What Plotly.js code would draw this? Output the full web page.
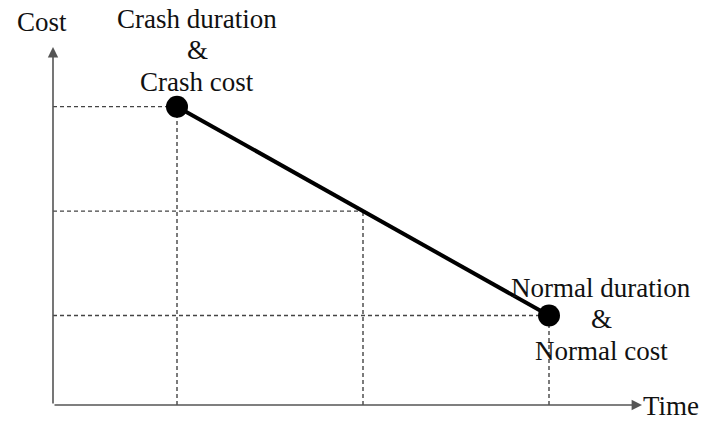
<!DOCTYPE html>
<html>
<head>
<meta charset="utf-8">
<script src="https://cdn.plot.ly/plotly-3.0.1.min.js"></script>
<style>html,body{margin:0;padding:0;background:#fff;}#chart{width:727px;height:442px;}</style>
</head>
<body>
<div id="chart"></div>
<script>
// Time (x) and cost (y) of the two end points: crash, normal
const pointTimes = [2, 8];
const pointCosts = [10, 3];
// Guide (dashed) levels: crash, midpoint, normal
const guideTimes = [2, 5, 8];
const guideCosts = [10, 6.5, 3];
const pointLabels = [['Crash duration', '&', 'Crash cost'], ['Normal duration', '&', 'Normal cost']];
const axisLabels = {x: 'Time', y: 'Cost'};
const xMax = 9.5, yMax = 12;

const gx = [], gy = [];
guideTimes.forEach((t, i) => {
  const c = guideCosts[i];
  gx.push(0, t, null, t, t, null);
  gy.push(c, c, null, 0, c, null);
});

const font = {family: '"Liberation Serif", "Times New Roman", serif', size: 27, color: '#111'};

const traces = [
  {x: gx, y: gy, mode: 'lines', line: {color: '#444', width: 1.4, dash: '4px,3px'}, hoverinfo: 'skip'},
  {x: pointTimes, y: pointCosts, mode: 'lines+markers', line: {color: '#000', width: 4},
   marker: {color: '#000', size: 22}}
];

const annotations = [
  {x: xMax, y: 0, ax: 0, ay: 0, axref: 'x', ayref: 'y', xref: 'x', yref: 'y', text: '',
   showarrow: true, arrowhead: 2, arrowsize: 1.3, arrowwidth: 1.6, arrowcolor: '#555', standoff: 0, startstandoff: 0},
  {x: 0, y: yMax, ax: 0, ay: 0, axref: 'x', ayref: 'y', xref: 'x', yref: 'y', text: '',
   showarrow: true, arrowhead: 2, arrowsize: 1.3, arrowwidth: 1.6, arrowcolor: '#555', standoff: 0, startstandoff: 0},
  {x: xMax, y: 0, xref: 'x', yref: 'y', text: axisLabels.x, showarrow: false, xanchor: 'left', yanchor: 'middle',
   xshift: -1, yshift: -1, font: font},
  {x: 0, y: yMax, xref: 'x', yref: 'y', text: axisLabels.y, showarrow: false, xanchor: 'center', yanchor: 'middle',
   xshift: -11, yshift: 25, font: font}
];
const labelPos = [{xshift: 20, yshift: 88}, {xshift: 52, yshift: 28}];
pointLabels.forEach((lines, i) => {
  lines.forEach((line, k) => {
    annotations.push({x: pointTimes[i], y: pointCosts[i], xref: 'x', yref: 'y', text: line, showarrow: false,
      xanchor: 'center', yanchor: 'middle', xshift: labelPos[i].xshift, yshift: labelPos[i].yshift - 31.5 * k, font: font});
  });
});

const layout = {
  width: 727, height: 442,
  margin: {l: 53, r: 85, t: 47, b: 37},
  paper_bgcolor: '#fff', plot_bgcolor: '#fff',
  showlegend: false,
  xaxis: {range: [0, xMax], showgrid: false, zeroline: false, showticklabels: false, ticks: '', showline: false},
  yaxis: {range: [0, yMax], showgrid: false, zeroline: false, showticklabels: false, ticks: '', showline: false},
  annotations: annotations
};

Plotly.newPlot('chart', traces, layout, {staticPlot: true, displayModeBar: false});
</script>
</body>
</html>
